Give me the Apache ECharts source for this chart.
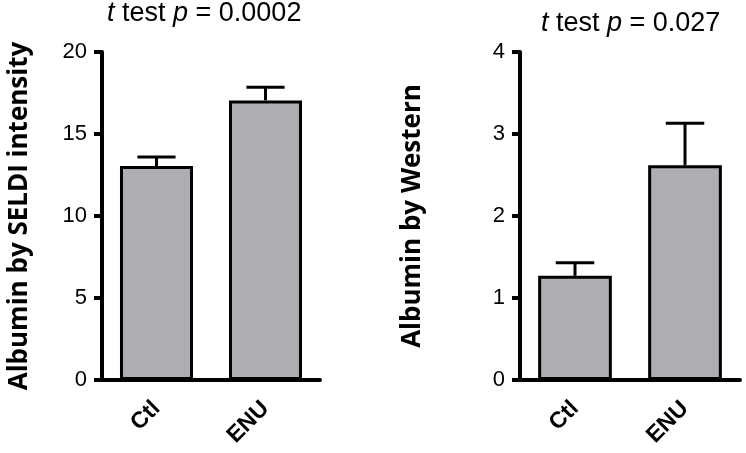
<!DOCTYPE html>
<html>
<head>
<meta charset="utf-8">
<script src="https://cdn.jsdelivr.net/npm/echarts@6/dist/echarts.min.js"></script>
<style>
  html, body { margin: 0; padding: 0; background: #fff; }
  #main { width: 746px; height: 453px; }
</style>
</head>
<body>
<div id="main"></div>
<script>
  var categories = ['Ctl', 'ENU'];
  // left panel: SELDI intensity (mean, SEM)
  var seldiMean = [13.05, 17.05];
  var seldiSem = [0.55, 0.8];
  // right panel: Western (mean, SEM)
  var westernMean = [1.27, 2.62];
  var westernSem = [0.16, 0.51];

  var chart = echarts.init(document.getElementById('main'));

  var tickFont = 'Liberation Sans';
  var titleFont = 'Open Sans';

  function errData(mean, sem) {
    var out = [];
    for (var i = 0; i < mean.length; i++) {
      out.push([i, mean[i], sem[i]]);
    }
    return out;
  }

  function renderErr(params, api) {
    var x = api.value(0);
    var v = api.value(1);
    var e = api.value(2);
    var base = api.coord([x, v]);
    var top = api.coord([x, v + e]);
    var half = api.size([1, 0])[0] * 0.175;
    var st = { stroke: '#000', lineWidth: 3 };
    return {
      type: 'group',
      children: [
        { type: 'line', shape: { x1: base[0], y1: base[1], x2: top[0], y2: top[1] }, style: st },
        { type: 'line', shape: { x1: top[0] - half, y1: top[1], x2: top[0] + half, y2: top[1] }, style: st }
      ]
    };
  }

  function xAxisOpt(idx) {
    return {
      type: 'category',
      gridIndex: idx,
      data: categories,
      axisLine: { lineStyle: { color: '#000', width: 4 } },
      axisTick: { alignWithLabel: true, length: 8, lineStyle: { color: '#000', width: 4 } },
      axisLabel: {
        rotate: 45, margin: 25, color: '#000',
        fontFamily: tickFont, fontWeight: 'bold', fontSize: 23
      }
    };
  }

  function yAxisOpt(idx, max, interval, name, gap) {
    return {
      type: 'value',
      gridIndex: idx,
      min: 0, max: max, interval: interval,
      name: name,
      nameLocation: 'middle',
      nameGap: gap,
      nameTextStyle: { fontFamily: titleFont, fontWeight: 'bold', fontSize: 26, color: '#000' },
      splitLine: { show: false },
      axisLine: { show: true, lineStyle: { color: '#000', width: 4 } },
      axisTick: { show: true, length: 8, lineStyle: { color: '#000', width: 4 } },
      axisLabel: { margin: 15, color: '#000', fontFamily: tickFont, fontSize: 22 }
    };
  }

  var titleStyle = {
    fontFamily: tickFont, fontSize: 27, fontWeight: 'normal', color: '#000',
    rich: { i: { fontFamily: tickFont, fontSize: 27, fontStyle: 'italic', color: '#000' } }
  };

  chart.setOption({
    backgroundColor: '#fff',
    animation: false,
    title: [
      { text: '{i|t} test {i|p} = 0.0002', left: 107, top: 0, padding: 0, textStyle: titleStyle },
      { text: '{i|t} test {i|p} = 0.027', left: 541, top: 10, padding: 0, textStyle: titleStyle }
    ],
    grid: [
      { left: 102, top: 52, width: 218, height: 328 },
      { left: 520, top: 52, width: 220, height: 328 }
    ],
    xAxis: [xAxisOpt(0), xAxisOpt(1)],
    yAxis: [
      yAxisOpt(0, 20, 5, 'Albumin by SELDI intensity', 69),
      yAxisOpt(1, 4, 1, 'Albumin by Western', 94)
    ],
    series: [
      {
        type: 'bar', xAxisIndex: 0, yAxisIndex: 0, data: seldiMean, barWidth: '67%',
        itemStyle: { color: '#AEADB2', borderColor: '#000', borderWidth: 3 }
      },
      {
        type: 'custom', xAxisIndex: 0, yAxisIndex: 0, data: errData(seldiMean, seldiSem),
        renderItem: renderErr, z: 3
      },
      {
        type: 'bar', xAxisIndex: 1, yAxisIndex: 1, data: westernMean, barWidth: '67%',
        itemStyle: { color: '#AEADB2', borderColor: '#000', borderWidth: 3 }
      },
      {
        type: 'custom', xAxisIndex: 1, yAxisIndex: 1, data: errData(westernMean, westernSem),
        renderItem: renderErr, z: 3
      }
    ]
  });
</script>
</body>
</html>
